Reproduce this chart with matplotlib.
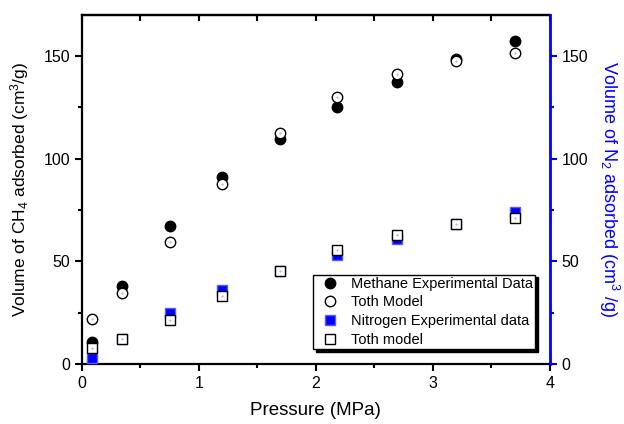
import numpy as np
import matplotlib.pyplot as plt
from matplotlib.ticker import MultipleLocator

plt.rcParams['font.family'] = ['Liberation Sans', 'DejaVu Sans']
plt.rcParams['mathtext.fontset'] = 'custom'
plt.rcParams['mathtext.rm'] = 'Liberation Sans'
plt.rcParams['mathtext.it'] = 'Liberation Sans'

#%% data
pressure = [0.083, 0.34, 0.75, 1.20, 1.69, 2.18, 2.69, 3.20, 3.70]
ch4_exp = [10.9, 38.0, 67.2, 91.1, 109.4, 125.2, 137.4, 148.4, 157.3]
ch4_toth = [22.1, 34.7, 59.6, 87.7, 112.5, 129.9, 141.3, 147.7, 151.3]
n2_exp = [2.9, 12.2, 24.7, 36.0, 45.5, 53.3, 60.9, 68.0, 74.0]
n2_toth = [7.6, 12.2, 21.4, 33.3, 45.5, 55.5, 62.8, 68.0, 71.3]

#%% plot
fig = plt.figure(figsize=(6.24, 4.24), dpi=100)
ax = fig.add_axes([0.1314, 0.1415, 0.7496, 0.8231])
ax2 = ax.twinx()

h1, = ax.plot(pressure, ch4_exp, 'o', color='black', ms=7.5, mec='black',
              label='Methane Experimental Data')
h2, = ax.plot(pressure, ch4_toth, 'o', mfc='white', mec='black', ms=7.5, mew=1,
              label='Toth Model')
ax.plot(pressure, ch4_toth, '.', color='#999999', ms=0.8)
h3, = ax2.plot(pressure, n2_exp, 's', color='blue', mec='#5a5aff', ms=7,
               label='Nitrogen Experimental data')
h4, = ax2.plot(pressure, n2_toth, 's', mfc='white', mec='black', ms=7, mew=1,
               label='Toth model')
ax2.plot(pressure, n2_toth, '.', color='#999999', ms=0.8)

for a in (ax, ax2):
    a.set_xlim(0, 4)
    a.set_ylim(0, 170)
    a.yaxis.set_major_locator(MultipleLocator(50))
    a.yaxis.set_minor_locator(MultipleLocator(25))
ax.xaxis.set_major_locator(MultipleLocator(1))
ax.xaxis.set_minor_locator(MultipleLocator(0.5))

ax.tick_params(which='both', direction='out', width=1.5, labelsize=11.5)
ax.tick_params(which='major', length=5)
ax.tick_params(which='minor', length=3)
ax2.tick_params(which='both', direction='out', width=1.5, color='blue',
                labelsize=11.5, labelcolor='black')
ax2.tick_params(which='major', length=5)
ax2.tick_params(which='minor', length=3)

# top ticks point inward
top = ax.secondary_xaxis('top')
top.xaxis.set_major_locator(MultipleLocator(1))
top.xaxis.set_minor_locator(MultipleLocator(0.5))
top.tick_params(which='both', direction='in', width=1.5, length=4, labeltop=False)
top.spines['top'].set_linewidth(1.6)

for s in ['left', 'bottom', 'top']:
    ax.spines[s].set_linewidth(1.6)
ax2.spines['right'].set_color('blue')
ax2.spines['right'].set_linewidth(2)
ax2.spines['left'].set_visible(False)
ax2.spines['top'].set_visible(False)
ax2.spines['bottom'].set_visible(False)

ax.set_xlabel('Pressure (MPa)', fontsize=13.5, labelpad=8)
ax.set_ylabel('Volume of CH$_4$ adsorbed (cm$^3$/g)', fontsize=12.5, labelpad=9)
ax2.set_ylabel('Volume of N$_2$ adsorbed (cm$^3$ /g)', fontsize=13, color='blue',
               rotation=270, labelpad=24)

leg = ax2.legend(handles=[h1, h2, h3, h4], loc='lower right',
                 bbox_to_anchor=(0.968, 0.043), fontsize=10.5, fancybox=False,
                 frameon=True, edgecolor='black', framealpha=1,
                 handletextpad=0.4, labelspacing=0.32, borderpad=0.15,
                 borderaxespad=0, shadow={'color': 'black', 'alpha': 1})
leg.get_frame().set_linewidth(1)

fig.savefig('out.png', dpi=100)
